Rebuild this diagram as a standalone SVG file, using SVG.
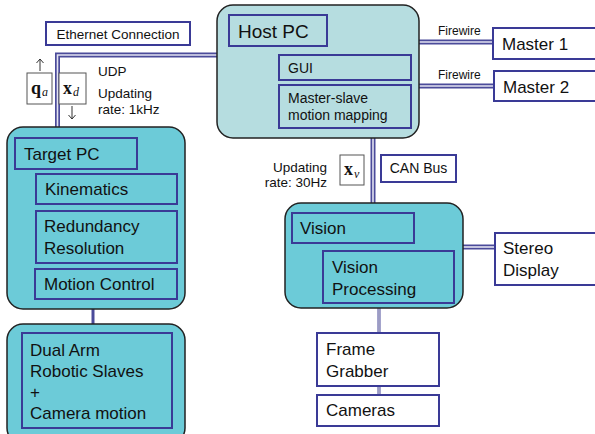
<svg xmlns="http://www.w3.org/2000/svg" width="595" height="434" viewBox="0 0 595 434">
<defs>
<style>
text{font-family:"Liberation Sans",Arial,sans-serif;fill:#111}
.box{fill:#fff;stroke:#3a3a96;stroke-width:2}
.ibox{fill:none;stroke:#3a3a96;stroke-width:2}
.big{fill:#6ccbd8;stroke:#222;stroke-width:1.5}
.host{fill:#b6dde0;stroke:#222;stroke-width:1.5}
.c1{fill:none;stroke:#4b4b9a;stroke-width:5}
.c2{fill:none;stroke:#e4e4f2;stroke-width:1.6}
.lbl{font-size:17px}
.sm{font-size:12px}
.md{font-size:13.5px}
.m{font-family:"Liberation Serif","Times New Roman",serif;font-weight:bold;font-size:18px}
.sub{font-family:"Liberation Serif","Times New Roman",serif;font-style:italic;font-size:12px}
.sbox{fill:#fff;stroke:#555;stroke-width:1}
.arr{fill:none;stroke:#333;stroke-width:1}
</style>
</defs>
<g id="connectors">
<path class="c1" d="M217,55 H57.5 V127"/>
<path class="c2" d="M217,55 H57.5 V127"/>
<path class="c1" d="M419,42 H493 M419,86 H494"/>
<path class="c2" d="M419,42 H493 M419,86 H494"/>
<path class="c1" d="M373,138 V203"/>
<path class="c2" d="M373,138 V203"/>
<path class="c1" d="M463,247 H495"/>
<path class="c2" d="M463,247 H495"/>
<path d="M93,309 V324" stroke="#4b4b9a" stroke-width="3" fill="none"/>
<path d="M379,308 V333 M379,386 V395" stroke="#4b4b9a" stroke-width="3" fill="none"/>
<path d="M379,308 V333 M379,386 V395" stroke="#eee" stroke-width="1" fill="none"/>
</g>
<g id="ethernet">
<rect class="box" x="46" y="22" width="144" height="23"/>
<text class="md" x="118" y="38.5" text-anchor="middle">Ethernet Connection</text>
</g>
<g id="udp">
<text class="md" x="98" y="76">UDP</text>
<text class="md" x="98" y="98">Updating</text>
<text class="md" x="98" y="114">rate: 1kHz</text>
</g>
<g id="qa">
<rect class="sbox" x="27" y="73" width="25" height="31"/>
<text class="m" x="31" y="94">q</text><text class="sub" x="42" y="96">a</text>
<path class="arr" d="M40,71 V59 M36.5,63 L40,59 L43.5,63"/>
</g>
<g id="xd">
<rect class="sbox" x="59" y="73" width="27" height="31"/>
<text class="m" x="63" y="94">x</text><text class="sub" x="73" y="96">d</text>
<path class="arr" d="M72,106 V119 M68.5,115 L72,119 L75.5,115"/>
</g>
<g id="host-pc">
<rect class="host" x="217" y="5" width="202" height="133" rx="16"/>
<rect class="ibox" x="229" y="15" width="98" height="31"/>
<text x="238" y="38" font-size="19">Host PC</text>
<rect class="ibox" x="279" y="55" width="132" height="25"/>
<text x="288" y="73" font-size="14">GUI</text>
<rect class="ibox" x="279" y="85" width="132" height="43"/>
<text x="288" y="103" font-size="14">Master-slave</text>
<text x="288" y="120" font-size="14">motion mapping</text>
</g>
<g id="master1">
<text class="sm" x="438" y="35">Firewire</text>
<rect class="box" x="493" y="28" width="104" height="31"/>
<text class="lbl" x="502" y="50">Master 1</text>
</g>
<g id="master2">
<text class="sm" x="438" y="79">Firewire</text>
<rect class="box" x="494" y="71" width="103" height="30"/>
<text class="lbl" x="503" y="93">Master 2</text>
</g>
<g id="target-pc">
<rect class="big" x="7" y="127" width="178" height="182" rx="16"/>
<rect class="ibox" x="15" y="138" width="122" height="31"/>
<text class="lbl" x="24" y="160">Target PC</text>
<rect class="ibox" x="36" y="174" width="141" height="30"/>
<text class="lbl" x="45" y="195">Kinematics</text>
<rect class="ibox" x="36" y="211" width="141" height="52"/>
<text class="lbl" x="44" y="232">Redundancy</text>
<text class="lbl" x="44" y="254">Resolution</text>
<rect class="ibox" x="35" y="269" width="142" height="30"/>
<text class="lbl" x="44" y="290">Motion Control</text>
</g>
<g id="slaves">
<rect class="big" x="7" y="324" width="178" height="120" rx="16"/>
<rect class="ibox" x="22" y="333" width="150" height="95"/>
<text class="lbl" x="30" y="356">Dual Arm</text>
<text class="lbl" x="30" y="377">Robotic Slaves</text>
<text class="lbl" x="30" y="398">+</text>
<text class="lbl" x="30" y="419">Camera motion</text>
</g>
<g id="xv">
<text class="md" x="327" y="172" text-anchor="end">Updating</text>
<text class="md" x="327" y="187" text-anchor="end">rate: 30Hz</text>
<rect class="sbox" x="340" y="155" width="24" height="30"/>
<text class="m" x="344" y="175">x</text><text class="sub" x="354" y="178">v</text>
</g>
<g id="can-bus">
<rect class="box" x="381" y="155" width="75" height="27"/>
<text x="418.5" y="173" text-anchor="middle" font-size="14">CAN Bus</text>
</g>
<g id="vision">
<rect class="big" x="285" y="203" width="178" height="105" rx="16"/>
<rect class="ibox" x="292" y="213" width="122" height="30"/>
<text class="lbl" x="300" y="234">Vision</text>
<rect class="ibox" x="323" y="251" width="131" height="52"/>
<text class="lbl" x="332" y="273">Vision</text>
<text class="lbl" x="332" y="295">Processing</text>
</g>
<g id="stereo">
<rect class="box" x="495" y="233" width="102" height="52"/>
<text class="lbl" x="503" y="254">Stereo</text>
<text class="lbl" x="503" y="276">Display</text>
</g>
<g id="frame-grabber">
<rect class="box" x="317" y="333" width="122" height="53"/>
<text class="lbl" x="326" y="355">Frame</text>
<text class="lbl" x="326" y="377">Grabber</text>
</g>
<g id="cameras">
<rect class="box" x="317" y="395" width="122" height="31"/>
<text class="lbl" x="326" y="416">Cameras</text>
</g>
</svg>
